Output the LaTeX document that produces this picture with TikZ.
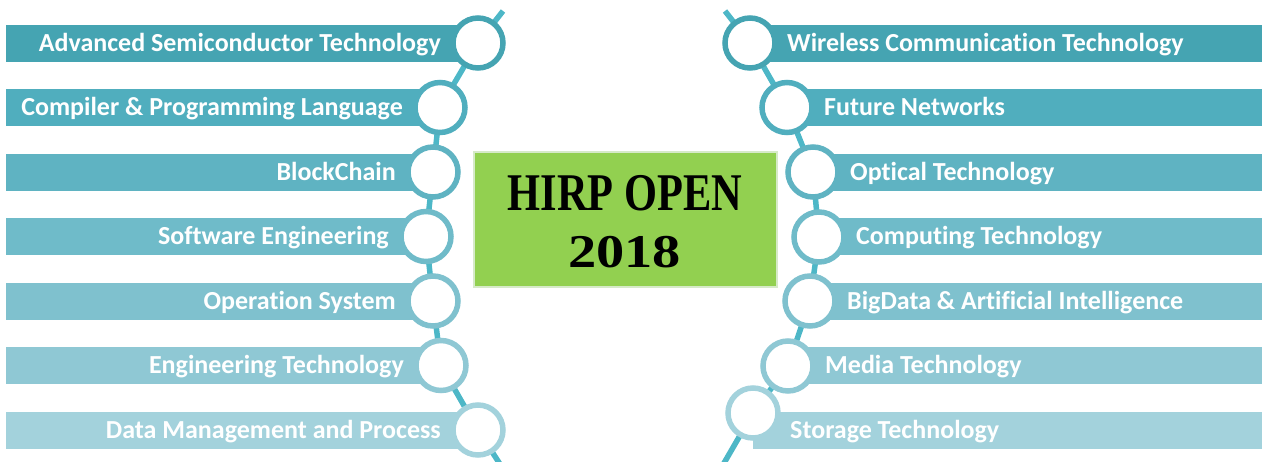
\documentclass[tikz,border=0pt]{standalone}
\usepackage{fontspec}
\setmainfont[Ligatures=NoCommon]{Carlito}
\newfontfamily\titlefont{Liberation Serif}
\definecolor{r1}{RGB}{69,164,178}
\definecolor{r2}{RGB}{80,174,190}
\definecolor{r3}{RGB}{95,179,194}
\definecolor{r4}{RGB}{111,187,201}
\definecolor{r5}{RGB}{127,193,206}
\definecolor{r6}{RGB}{143,200,212}
\definecolor{r7}{RGB}{163,210,220}
\definecolor{conncol}{RGB}{77,183,199}
\definecolor{boxgreen}{RGB}{146,208,80}
\definecolor{boxedge}{RGB}{214,234,200}
\tikzset{
  ring/.style={circle, minimum size=50pt, inner sep=0pt, line width=5.5pt, fill=white, draw=#1},
  conn/.style={draw=conncol, line width=5.5pt},
  lbl/.style={text=white, font=\bfseries\fontsize{26}{26}\selectfont, inner sep=0pt},
}
\begin{document}
\begin{tikzpicture}[x=1pt,y=-1pt]
\useasboundingbox (0,0) rectangle (1262,461);
\clip (0,0) rectangle (1262,461);
% left circle centres
\coordinate (L1) at (478,43);
\coordinate (L2) at (440,107.5);
\coordinate (L3) at (433,172);
\coordinate (L4) at (426,236.5);
\coordinate (L5) at (433,301);
\coordinate (L6) at (441,365.5);
\coordinate (L7) at (478,430);
\coordinate (Ltop) at (503,11);
\coordinate (Lbot) at (507,475);
% right circle centres
\coordinate (R1) at (750,43);
\coordinate (R2) at (787,107.5);
\coordinate (R3) at (813,172);
\coordinate (R4) at (819,237);
\coordinate (R5) at (810,301);
\coordinate (R6) at (788,366);
\coordinate (R7) at (753,413);
\coordinate (Rtop) at (725,11);
\coordinate (Rbot) at (720,470);
% bars
\foreach \i/\y/\c in {1/43/r1,2/107.5/r2,3/172/r3,4/236.5/r4,5/301/r5,6/365.5/r6,7/430/r7}{
  \fill[\c] (6,\y-18.5) rectangle (L\i |- 0,\y+18.5);
  \fill[\c] (R\i |- 0,\y-18.5) rectangle (1262,\y+18.5);
}
% connectors
\draw[conn] (Ltop) -- (L1) -- (L2) -- (L3) -- (L4) -- (L5) -- (L6) -- (L7) -- (Lbot);
\draw[conn] (Rtop) -- (R1) -- (R2) -- (R3) -- (R4) -- (R5) -- (R6) -- (R7) -- (Rbot);
% rings
\foreach \i/\c in {1/r1,2/r2,3/r3,4/r4,5/r5,6/r6,7/r7}{
  \node[ring=\c] (cL\i) at (L\i) {};
  \node[ring=\c] (cR\i) at (R\i) {};
}
% left labels
\node[lbl, anchor=base east] (tL1) at ([xshift=-37pt]L1 |- 0,51) {Advanced Semiconductor Technology};
\node[lbl, anchor=base east] (tL2) at ([xshift=-37pt]L2 |- 0,115.5) {Compiler \& Programming Language};
\node[lbl, anchor=base east] (tL3) at ([xshift=-37pt]L3 |- 0,180) {BlockChain};
\node[lbl, anchor=base east] (tL4) at ([xshift=-37pt]L4 |- 0,244.5) {Software Engineering};
\node[lbl, anchor=base east] (tL5) at ([xshift=-37pt]L5 |- 0,309) {Operation System};
\node[lbl, anchor=base east] (tL6) at ([xshift=-37pt]L6 |- 0,373.5) {Engineering Technology};
\node[lbl, anchor=base east] (tL7) at ([xshift=-37pt]L7 |- 0,438) {Data Management and Process};
% right labels
\node[lbl, anchor=base west] (tR1) at ([xshift=37pt]R1 |- 0,51) {Wireless Communication Technology};
\node[lbl, anchor=base west] (tR2) at ([xshift=37pt]R2 |- 0,115.5) {Future Networks};
\node[lbl, anchor=base west] (tR3) at ([xshift=37pt]R3 |- 0,180) {Optical Technology};
\node[lbl, anchor=base west] (tR4) at ([xshift=37pt]R4 |- 0,244.5) {Computing Technology};
\node[lbl, anchor=base west] (tR5) at ([xshift=37pt]R5 |- 0,309) {BigData \& Artificial Intelligence};
\node[lbl, anchor=base west] (tR6) at ([xshift=37pt]R6 |- 0,373.5) {Media Technology};
\node[lbl, anchor=base west] (tR7) at ([xshift=37pt]R7 |- 0,438) {Storage Technology};
% centre box
\node[fill=boxgreen, draw=boxedge, line width=2pt, minimum width=303pt, minimum height=135pt, inner sep=0pt] (title) at (625.5,219.5) {};
\node[font=\titlefont\bfseries\fontsize{53}{53}\selectfont, inner sep=0pt, anchor=base] (t1) at (625,210) {\scalebox{0.8}[1]{HIRP OPEN}};
\node[font=\titlefont\bfseries\fontsize{47}{47}\selectfont, inner sep=0pt, anchor=base] (t2) at (624.5,267) {\scalebox{1.2}[1]{2018}};
\end{tikzpicture}
\end{document}
